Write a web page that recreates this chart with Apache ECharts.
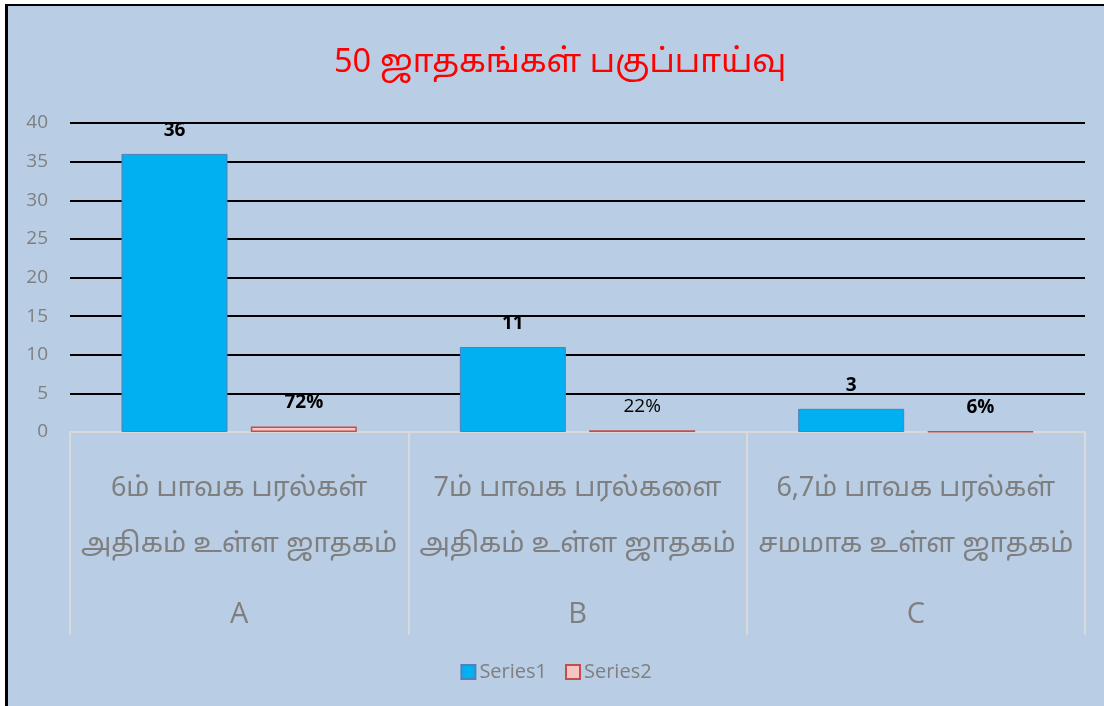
<!DOCTYPE html>
<html><head><meta charset="utf-8">
<script src="https://cdn.jsdelivr.net/npm/echarts@6/dist/echarts.min.js"></script>
<style>
html,body{margin:0;padding:0;background:#fff;width:1104px;height:706px;overflow:hidden;}
#wrap{position:absolute;left:5px;top:4px;width:1099px;height:702px;border-left:3px solid #000;border-top:2px solid #000;background:#b9cde5;}
#chart{width:1096px;height:700px;}
</style></head>
<body><div id="wrap"><div id="chart"></div></div>
<script>
const titleText = '50 ஜாதகங்கள் பகுப்பாய்வு';
const categoryLine1 = ['6ம் பாவக பரல்கள்', '7ம் பாவக பரல்களை', '6,7ம் பாவக பரல்கள்'];
const categoryLine2 = ['அதிகம் உள்ள ஜாதகம்', 'அதிகம் உள்ள ஜாதகம்', 'சமமாக உள்ள ஜாதகம்'];
const groupLabels = ['A', 'B', 'C'];
const series1Values = [36, 11, 3];
const series2Values = [0.72, 0.22, 0.06];
const series2Labels = ['72%', '22%', '6%'];
const series2Bold = [true, false, true];
const yTicks = [0, 5, 10, 15, 20, 25, 30, 35, 40];

const tamilFont = "'Noto Sans Tamil','Latha','Lohit Tamil','Noto Sans',sans-serif";
const latinFont = "'Open Sans','Liberation Sans',sans-serif";
const chart = echarts.init(document.getElementById('chart'), null, {renderer:'canvas'});
chart.setOption({
  backgroundColor: 'transparent',
  animation: false,
  title: {
    text: titleText, left: 321, top: 38,
    textStyle: {color: '#ff0000', fontSize: 32.5, fontWeight: 'normal', fontFamily: tamilFont}
  },
  legend: {
    bottom: 19, left: 'center', itemWidth: 14, itemHeight: 14, itemGap: 18,
    textStyle: {color: '#7f7f7f', fontSize: 20, fontFamily: latinFont, padding: [0,0,0,-1]},
    data: [{name:'Series1', icon:'rect'}, {name:'Series2', icon:'rect'}]
  },
  grid: {left: 62, right: 19, top: 117, bottom: 274, containLabel: false},
  xAxis: {
    type: 'category',
    data: groupLabels.map(g => ({value: g})),
    boundaryGap: true,
    axisLine: {lineStyle: {color: '#d9d9d9', width: 2}},
    axisTick: {show: true, interval: 0, length: 203, lineStyle: {color: '#d9d9d9', width: 2}},
    axisLabel: {
      interval: 0, margin: 31,
      formatter: (v, i) => '{a|' + categoryLine1[i] + '}\n{a|' + categoryLine2[i] + '}\n{b|' + groupLabels[i] + '}',
      rich: {
        a: {color: '#7f7f7f', fontSize: 27, lineHeight: 56, fontFamily: tamilFont},
        b: {color: '#7f7f7f', fontSize: 29, lineHeight: 80, fontFamily: latinFont}
      }
    }
  },
  yAxis: {
    type: 'value', min: 0, max: 40, interval: 5,
    axisLine: {show: false}, axisTick: {show: false},
    axisLabel: {color: '#7f7f7f', fontSize: 19, margin: 22, fontFamily: latinFont,
      formatter: v => yTicks.includes(v) ? String(v) : ''},
    splitLine: {show: true, lineStyle: {color: '#000', width: 2}}
  },
  series: [
    {
      name: 'Series1', type: 'bar', data: series1Values, barWidth: 106, barGap: '22%',
      itemStyle: {color: '#00b0f0', borderColor: '#4f81bd', borderWidth: 1},
      label: {show: true, position: 'top', distance: 14, color: '#000', fontWeight: 'bold', fontSize: 19,
        fontFamily: latinFont}
    },
    {
      name: 'Series2', type: 'bar', barWidth: 106,
      data: series2Values.map((v, i) => ({value: v, label: {fontWeight: series2Bold[i] ? 'bold' : 'normal'}})),
      itemStyle: {color: '#f9c4c4', borderColor: '#c0504d', borderWidth: 1.5},
      label: {show: true, position: 'top', distance: 14, color: '#000', fontSize: 19,
        fontFamily: latinFont,
        formatter: p => series2Labels[p.dataIndex]}
    }
  ]
});
</script></body></html>
